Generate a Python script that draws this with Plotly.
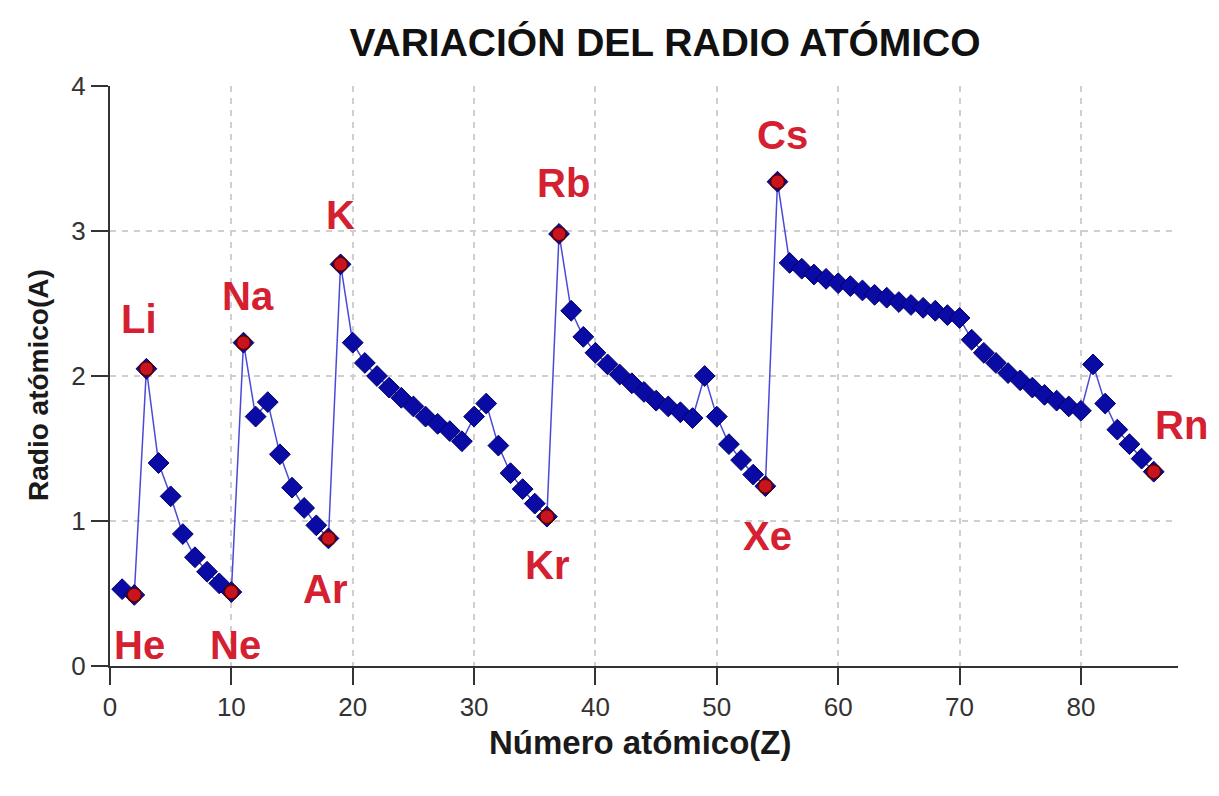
import plotly.graph_objects as go

# ---- data ----
atomic_number = list(range(1, 87))
symbols = ["H", "He", "Li", "Be", "B", "C", "N", "O", "F", "Ne",
           "Na", "Mg", "Al", "Si", "P", "S", "Cl", "Ar",
           "K", "Ca", "Sc", "Ti", "V", "Cr", "Mn", "Fe", "Co", "Ni", "Cu", "Zn",
           "Ga", "Ge", "As", "Se", "Br", "Kr",
           "Rb", "Sr", "Y", "Zr", "Nb", "Mo", "Tc", "Ru", "Rh", "Pd", "Ag", "Cd",
           "In", "Sn", "Sb", "Te", "I", "Xe",
           "Cs", "Ba", "La", "Ce", "Pr", "Nd", "Pm", "Sm", "Eu", "Gd", "Tb", "Dy",
           "Ho", "Er", "Tm", "Yb", "Lu", "Hf", "Ta", "W", "Re", "Os", "Ir", "Pt",
           "Au", "Hg", "Tl", "Pb", "Bi", "Po", "At", "Rn"]
radius = [0.53, 0.49, 2.05, 1.40, 1.17, 0.91, 0.75, 0.65, 0.57, 0.51,
          2.23, 1.72, 1.82, 1.46, 1.23, 1.09, 0.97, 0.88,
          2.77, 2.23, 2.09, 2.00, 1.92, 1.85, 1.79, 1.72, 1.67, 1.62, 1.55, 1.72,
          1.81, 1.52, 1.33, 1.22, 1.12, 1.03,
          2.98, 2.45, 2.27, 2.16, 2.08, 2.01, 1.95, 1.89, 1.83, 1.79, 1.75, 1.71,
          2.00, 1.72, 1.53, 1.42, 1.32, 1.24,
          3.34, 2.78, 2.74, 2.70, 2.67, 2.64, 2.62, 2.59, 2.56, 2.54, 2.51, 2.49,
          2.47, 2.45, 2.42, 2.40, 2.25, 2.16, 2.09, 2.02, 1.97, 1.92, 1.87, 1.83,
          1.79, 1.76, 2.08, 1.81, 1.63, 1.53, 1.43, 1.34]
highlighted = ["He", "Li", "Ne", "Na", "Ar", "K", "Kr", "Rb", "Xe", "Cs", "Rn"]
x_ticks = [0, 10, 20, 30, 40, 50, 60, 70, 80]
y_ticks = [0, 1, 2, 3, 4]

# label offsets in pixels (style only)
label_shift = {"He": (5, -50), "Li": (-7, 50), "Ne": (4, -53), "Na": (4, 47),
               "Ar": (-3, -51), "K": (0, 49), "Kr": (0, -48), "Rb": (4, 51),
               "Xe": (2, -50), "Cs": (5, 47), "Rn": (28, 47)}

hx = [atomic_number[symbols.index(s)] for s in highlighted]
hy = [radius[symbols.index(s)] for s in highlighted]

FONT = "Liberation Sans, Arial, sans-serif"

fig = go.Figure()
fig.add_trace(go.Scatter(
    x=atomic_number, y=radius, mode="lines+markers",
    line=dict(color="#4a4ad8", width=1.5),
    marker=dict(symbol="diamond", size=16, color="#0a0aa5",
                line=dict(color="#00006e", width=1)),
    showlegend=False, hoverinfo="x+y"))
fig.add_trace(go.Scatter(
    x=hx, y=hy, mode="markers",
    marker=dict(symbol="circle", size=14, color="#c8141e",
                line=dict(color="#5a0000", width=1.5)),
    showlegend=False, hoverinfo="x+y"))

annotations = []
for s, xv, yv in zip(highlighted, hx, hy):
    dx, dy = label_shift[s]
    annotations.append(dict(
        x=xv, y=yv, xref="x", yref="y", text=s, showarrow=False,
        xshift=dx, yshift=dy,
        font=dict(family=FONT, size=40, color="#d42030", weight="bold")))

annotations.append(dict(
    text="Número atómico(Z)", xref="paper", yref="paper", x=0.497, y=0,
    yshift=-76, showarrow=False, xanchor="center", yanchor="middle",
    font=dict(family=FONT, size=33, color="#1a1a1a", weight="bold")))
annotations.append(dict(
    text="Radio atómico(A)", xref="paper", yref="paper", x=0, y=0.4845,
    xshift=-71, showarrow=False, xanchor="center", yanchor="middle",
    textangle=-90,
    font=dict(family=FONT, size=28, color="#1a1a1a", weight="bold")))

axis_common = dict(
    showline=True, linecolor="#333333", linewidth=2,
    ticks="outside", ticklen=17, tickwidth=2, tickcolor="#333333",
    showgrid=True, gridcolor="#cfcfcf", gridwidth=1.5, griddash="6px,6px",
    zeroline=False,
    tickfont=dict(family=FONT, size=26, color="#333333"))

# the page body adds an 8 px offset, so the figure is 8 px smaller
W, H = 1211, 788
fig.update_layout(
    width=W, height=H,
    margin=dict(l=102, r=41, t=78, b=130),
    paper_bgcolor="white", plot_bgcolor="white",
    title=dict(text="<b>VARIACIÓN DEL RADIO ATÓMICO</b>",
               x=657 / W, xref="container", xanchor="center",
               y=1 - 34 / H, yref="container", yanchor="middle",
               font=dict(family=FONT, size=39, color="#111111")),
    xaxis=dict(range=[0, 88], tickvals=x_ticks, **axis_common),
    yaxis=dict(range=[0, 4], tickvals=y_ticks, **axis_common),
    annotations=annotations,
)
fig.write_html("out.html")
